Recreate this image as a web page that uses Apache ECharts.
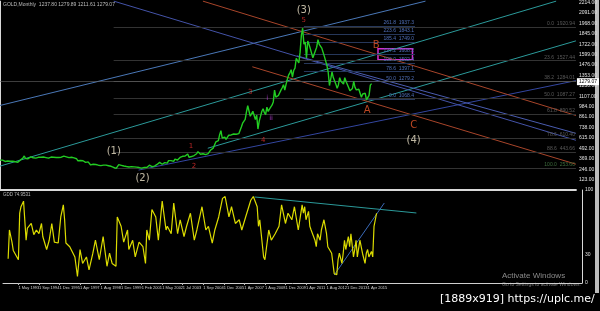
<!DOCTYPE html>
<html><head><meta charset="utf-8">
<style>html,body{margin:0;padding:0;background:#000;}#c{width:600px;height:311px;}</style>
<script src="https://cdn.jsdelivr.net/npm/echarts@6/dist/echarts.min.js"></script>
</head><body><div id="c"></div><script>
// month index 0 = Dec 1991 ; 452 monthly slots across the panel
const monthCount = 452;
// monthly gold price (close, visual extremes) from Dec 1991 to Mar 2016
const closes = [353,
354,353,341,337,337,343,353,340,349,339,334,333,
330,328,337,355,377,378,402,372,355,369,370,391,
377,381,390,376,387,386,384,386,395,390,383,383,
375,376,391,389,385,387,383,384,384,383,387,387,
405,400,396,392,391,382,385,387,379,379,372,369,
345,358,349,340,345,334,326,325,332,311,296,290,
304,297,301,308,293,296,288,273,294,292,294,288,
287,287,280,286,268,262,256,255,299,300,291,290,
283,293,277,275,272,288,276,278,273,264,270,273,
265,267,258,264,267,271,265,273,293,279,275,277,
282,297,302,308,326,318,304,312,324,316,317,347,
368,347,334,337,364,346,354,375,384,386,398,416,
402,397,426,387,394,395,391,407,416,428,453,438,
422,435,428,436,417,437,429,433,473,470,495,513,
568,556,582,654,700,614,633,623,599,604,646,632,
650,665,661,679,659,650,665,673,743,789,783,834,
923,995,933,871,885,930,913,833,884,720,814,869,
927,960,916,891,979,927,955,953,1001,1040,1179,1096,
1081,1116,1113,1179,1207,1244,1181,1248,1307,1357,1384,1421,
1333,1411,1439,1556,1536,1500,1628,1825,1910,1722,1746,1560,
1760,1720,1669,1664,1560,1604,1615,1687,1775,1719,1714,1675,
1664,1578,1595,1472,1393,1234,1313,1396,1327,1323,1250,1202,
1240,1326,1284,1296,1250,1327,1282,1287,1210,1171,1182,1199,
1283,1212,1183,1184,1190,1172,1095,1134,1115,1142,1065,1055,
1118,1238,1256];
const lastPrice = 1279.07;

// oscillator (month index, value)
const oscMonths = [4,5,7,8,12,13,14,16,18,19,22,24,26,28,30,31,34,36,38,40,43,45,47,48,49,52,56,58,60,62,65,67,70,72,75,78,79,81,83,85,88,89,92,94,97,98,101,103,106,109,111,112,114,116,119,121,124,127,128,131,133,136,138,141,143,146,149,151,155,158,160,163,165,168,171,173,176,178,181,184,186,189,193,195,198,199,200,203,204,207,209,212,215,217,220,222,225,227,230,233,234,235,236,238,239,240,243,244,245,247,248,250,252,253,256,257,258,260,261,262,264,265,266,267,269,270,271,273,274,275,276,278,279,280,282,283,284,285,287,288,289,291];
const oscValues = [26,57,44,35,25,75,82,88,46,59,64,52,57,53,64,50,36,46,64,44,43,71,84,68,43,39,28,7,36,21,28,14,32,46,25,50,39,18,32,21,18,71,61,44,57,36,46,28,44,39,21,57,46,79,71,46,88,57,61,53,86,53,68,50,61,75,46,57,82,57,61,43,57,71,91,93,71,82,64,68,57,71,89,93,82,61,68,28,25,57,46,53,61,84,64,75,68,82,57,84,75,82,68,77,61,57,46,39,53,46,57,68,53,39,32,21,10,9,25,32,21,32,46,36,50,39,53,28,36,46,28,46,39,32,21,32,36,28,34,28,61,75];

// price axis tick labels (interval) and date tick labels
const priceTickStep = 123;
const dateTickFirst = 12, dateTickStep = 16;
const dateTickLabels = ['1 May 1993','1 Sep 1994','1 Dec 1995','1 Apr 1997','1 Aug 1998','1 Dec 1999','1 Feb 2001','1 May 2002','1 Jul 2003','1 Sep 2004','1 Dec 2005','1 Apr 2007','1 Aug 2008','1 Dec 2009','1 Apr 2011','1 Aug 2012','1 Dec 2013','1 Apr 2015'];
const oscTickLabels = [0, 30, 100];

// trend / channel lines: [month, price]
const trendStarts = [[0,282],[162.7,493],[108.5,235],[0,998],[89.1,2230],[232.5,1584],[197.6,1455],[158.9,2230]];
const trendEnds   = [[435.5,2230],[451,1761],[451,1291],[333.2,2230],[451,587],[451,669],[451,305],[451,880]];

// long fibonacci retracement levels
const fibLongLevels = [1920.94,1527.44,1284.01,1087.27,890.52,610.40,443.66,253.60];
const fibLongNames = ['0.0  1920.94','23.6  1527.44','38.2  1284.01','50.0  1087.27','61.8  890.52','78.6  610.40','88.6  443.66','100.0  253.60'];
const fibLongFrom = 89, fibLongTo = 451;
// short fibonacci levels
const fibShortLevels = [1937,1843,1749,1608,1502,1397,1279,1068];
const fibShortNames = ['261.8  1937.3','223.6  1843.1','185.4  1749.0','127.2  1608.2','100.0  1502.4','78.6  1397.1','50.0  1279.2','0.0  1068.4'];
const fibShortFrom = 238, fibShortTo = 325;
// target box
const boxFrom = [296, 1667], boxTo = [323, 1538];

// wave labels
const waveText  = ['(3)','5','B','A','C','(4)','(1)','(2)','1','2','3','4','i','ii'];
const waveMonth = [237.9,237.9,294.5,287.5,323.9,323.9,89.1,111.6,149.6,151.9,196,206.1,209.2,212.3];
const wavePrice = [2124,2007,1702,939,763,587,458,141,516,282,1150,587,1080,845];
const waveKind  = ['major','minor','abc','abc','abc','major','major','major','minor','minor','minor','minor','sub','sub'];

// oscillator trend lines
const oscLineStarts = [[196,92.5],[258,8.6]];
const oscLineEnds   = [[322,75.3],[297,86]];

// ---------- build ----------
const cats = Array.from({length: monthCount}, (_, i) => String(i));
const priceData = closes.map((v, i) => [i, v]);
const oscData = oscMonths.map((m, i) => [m, oscValues[i]]);
const trendColors = ['#2b9a9a','#2b9a9a','#3346a0','#4a78b8','#4453a8','#4a5cb0','#a8452a','#a8452a'];
const waveStyle = {
  major: {color:'#ece2c8', fontSize:10, fontFamily:'DejaVu Sans'},
  abc:   {color:'#e8582a', fontSize:10, fontFamily:'DejaVu Sans'},
  minor: {color:'#e83030', fontSize:7,  fontFamily:'DejaVu Sans'},
  sub:   {color:'#c040e0', fontSize:7,  fontFamily:'DejaVu Sans'}
};

const markLines = [];
trendStarts.forEach((s, i) => {
  markLines.push([{coord: s, lineStyle:{color: trendColors[i], width:1, type:'solid'}}, {coord: trendEnds[i]}]);
});
fibLongLevels.forEach((p, i) => {
  markLines.push([{coord:[fibLongFrom, p], lineStyle:{color:'#333', width:1, type:'solid'},
    label:{show:true, position:'insideEndTop', formatter: fibLongNames[i], color: i===7 ? '#3d6e3d' : '#5a5a5a', fontSize:5, distance:1}},
    {coord:[fibLongTo, p]}]);
});
fibShortLevels.forEach((p, i) => {
  markLines.push([{coord:[fibShortFrom, p], lineStyle:{color:'#26375a', width:1, type:'solid'},
    label:{show:true, position:'insideEndTop', formatter: fibShortNames[i], color:'#4f6fb8', fontSize:5, distance:1}},
    {coord:[fibShortTo, p]}]);
});
markLines.push({yAxis: lastPrice, lineStyle:{color:'#666', width:0.6, type:'solid'},
  label:{show:true, position:'end', formatter: lastPrice.toFixed(2), backgroundColor:'#fff', color:'#000', fontSize:5, padding:[1,2], distance:1}});

const waveData = waveText.map((t, i) => ({name:t, value:[waveMonth[i], wavePrice[i]],
  label: Object.assign({show:true, position:'inside', formatter:'{b}'}, waveStyle[waveKind[i]])}));

const oscMarks = oscLineStarts.map((s, i) => [{coord:s, lineStyle:{color: i===0 ? '#2b9a9a' : '#3a6ab8', width:1, type:'solid'}}, {coord: oscLineEnds[i]}]);

const isDateTick = (idx) => idx >= dateTickFirst && (idx - dateTickFirst) % dateTickStep === 0 && (idx - dateTickFirst) / dateTickStep < dateTickLabels.length;
const dateLabelFor = (v) => { const n = Number(v); return isDateTick(n) ? dateTickLabels[(n - dateTickFirst) / dateTickStep] : ''; };

const chart = echarts.init(document.getElementById('c'), null, {renderer:'canvas'});
chart.setOption({
  backgroundColor:'#000',
  animation:false,
  textStyle:{fontFamily:'Liberation Sans'},
  grid:[{left:0, right:18, top:0, height:190}, {left:0, right:18, top:190, height:93}],
  xAxis:[
    {type:'value', gridIndex:0, min:0, max:monthCount-1, axisLabel:{show:false}, axisTick:{show:false}, splitLine:{show:false},
     axisLine:{show:true, onZero:false, lineStyle:{color:'#d8d8d8', width:2}}},
    {type:'category', gridIndex:1, data:cats, boundaryGap:false,
     axisLine:{show:true, lineStyle:{color:'#cfcfcf', width:1}},
     axisTick:{show:true, interval:(idx)=>isDateTick(idx), length:2, lineStyle:{color:'#bbb'}},
     axisLabel:{show:true, hideOverlap:false, interval:0, formatter:(v)=>dateLabelFor(v), color:'#d0d0d0', fontSize:4, align:'left', margin:3}}
  ],
  yAxis:[
    {type:'value', gridIndex:0, position:'right', min:0, max:2230, interval:priceTickStep,
     axisLine:{show:true, lineStyle:{color:'#d8d8d8', width:1}}, axisTick:{show:false}, splitLine:{show:false},
     axisLabel:{color:'#e0e0e0', fontSize:5, margin:3, showMinLabel:false, showMaxLabel:false, formatter:(v)=>v.toFixed(2)}},
    {type:'value', gridIndex:1, position:'right', min:0, max:100, interval:10,
     axisLine:{show:true, lineStyle:{color:'#d8d8d8', width:1}}, axisTick:{show:false}, splitLine:{show:false},
     axisLabel:{color:'#e0e0e0', fontSize:5, margin:3, formatter:(v)=>oscTickLabels.indexOf(v) >= 0 ? String(v) : ''}}
  ],
  series:[
    {name:'GOLD', type:'line', xAxisIndex:0, yAxisIndex:0, data:priceData, symbol:'none', z:5,
     lineStyle:{color:'#22cc22', width:1.4},
     markLine:{silent:true, symbol:['none','none'], animation:false, label:{show:false}, data:markLines},
     markArea:{silent:true, data:[[{coord:boxFrom, itemStyle:{color:'rgba(0,0,0,0)', borderColor:'#d22fd2', borderWidth:1.5}}, {coord:boxTo}]]}},
    {name:'waves', type:'scatter', xAxisIndex:0, yAxisIndex:0, data:waveData, symbolSize:1, itemStyle:{color:'rgba(0,0,0,0)'}, z:10},
    {name:'osc', type:'line', xAxisIndex:1, yAxisIndex:1, data:oscData, symbol:'none', z:5,
     lineStyle:{color:'#dcdc00', width:1.2},
     markLine:{silent:true, symbol:['none','none'], animation:false, label:{show:false}, data:oscMarks}}
  ],
  graphic:[
    {type:'text', left:3, top:2, style:{text:'GOLD,Monthly  1237.80 1279.89 1211.61 1279.07', fill:'#bdbdbd', font:'5px Liberation Sans'}},
    {type:'text', left:3, top:192, style:{text:'GDD 74.9531', fill:'#bdbdbd', font:'4.5px Liberation Sans'}},
    {type:'rect', shape:{x:595, y:0, width:4, height:293}, style:{fill:'#bcbcbc'}},
    {type:'text', left:502, top:272, style:{text:'Activate Windows', fill:'#8a8a8a', font:'8px Liberation Sans'}},
    {type:'text', left:502, top:282, style:{text:'Go to Settings to activate Windows.', fill:'#7a7a7a', font:'5px Liberation Sans'}},
    {type:'text', left:440, top:294, style:{text:'[1889x919] https://uplc.me/', fill:'#ffffff', font:'11px DejaVu Sans'}}
  ]
});
</script></body></html>
